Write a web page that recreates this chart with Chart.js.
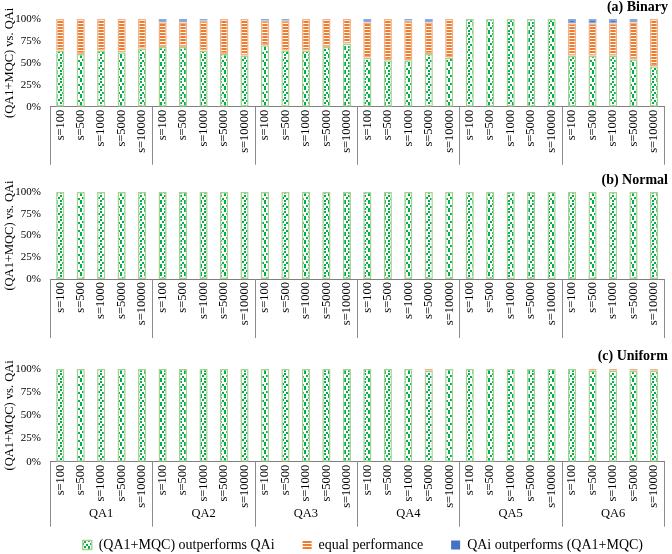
<!DOCTYPE html>
<html>
<head>
<meta charset="utf-8">
<script src="https://cdn.jsdelivr.net/npm/chart.js@4.4.0/dist/chart.umd.min.js"></script>
<style>
  html, body { margin: 0; padding: 0; background: #fff; overflow: hidden; }
  #wrap { position: relative; width: 672px; height: 554px; }
  .panel { position: absolute; left: 0; width: 672px; }
</style>
</head>
<body>
<div id="wrap">
  <div class="panel" style="top:0;height:170px"><canvas id="chartA"></canvas></div>
  <div class="panel" style="top:170px;height:170px"><canvas id="chartB"></canvas></div>
  <div class="panel" style="top:340px;height:222px"><canvas id="chartC"></canvas></div>
</div>
<script>
// categories
const groups = ['QA1', 'QA2', 'QA3', 'QA4', 'QA5', 'QA6'];
const sizes = ['s=100', 's=500', 's=1000', 's=5000', 's=10000'];
const seriesNames = ['(QA1+MQC) outperforms QAi', 'equal performance', 'QAi outperforms (QA1+MQC)'];
const yTicks = [0, 25, 50, 75, 100];

// (a) Binary, percent of cases
const binaryBetter = [64, 60, 64, 62, 66, 68, 68, 64, 60, 58, 70, 64, 64, 68, 72, 56, 53, 53, 60, 56, 100, 100, 100, 100, 100, 58, 58, 58, 54, 46];
const binaryEqual = [36, 40, 36, 38, 34, 28, 28, 34, 40, 42, 28, 34, 36, 32, 28, 40, 47, 45, 36, 44, 0, 0, 0, 0, 0, 37, 37, 37, 42, 54];
const binaryWorse = [0, 0, 0, 0, 0, 4, 4, 2, 0, 0, 2, 2, 0, 0, 0, 4, 0, 2, 4, 0, 0, 0, 0, 0, 0, 5, 5, 5, 4, 0];

// (b) Normal
const normalBetter = [100, 100, 100, 100, 100, 100, 100, 100, 100, 100, 100, 100, 100, 100, 100, 100, 100, 100, 100, 100, 100, 100, 100, 100, 100, 100, 100, 100, 100, 100];
const normalEqual = [0, 0, 0, 0, 0, 0, 0, 0, 0, 0, 0, 0, 0, 0, 0, 0, 0, 0, 0, 0, 0, 0, 0, 0, 0, 0, 0, 0, 0, 0];
const normalWorse = [0, 0, 0, 0, 0, 0, 0, 0, 0, 0, 0, 0, 0, 0, 0, 0, 0, 0, 0, 0, 0, 0, 0, 0, 0, 0, 0, 0, 0, 0];

// (c) Uniform
const uniformBetter = [100, 100, 100, 100, 100, 100, 100, 100, 100, 100, 100, 100, 100, 100, 100, 100, 100, 100, 98, 100, 100, 100, 100, 100, 100, 100, 98, 98, 98, 98];
const uniformEqual = [0, 0, 0, 0, 0, 0, 0, 0, 0, 0, 0, 0, 0, 0, 0, 0, 0, 0, 2, 0, 0, 0, 0, 0, 0, 0, 2, 2, 2, 2];
const uniformWorse = [0, 0, 0, 0, 0, 0, 0, 0, 0, 0, 0, 0, 0, 0, 0, 0, 0, 0, 0, 0, 0, 0, 0, 0, 0, 0, 0, 0, 0, 0];

const labels = groups.flatMap(() => sizes);
const serif = '"Liberation Serif", "Times New Roman", serif';

Chart.defaults.font.family = serif;
Chart.defaults.color = '#000';

function makeTile(w, h, paint) {
    const c = document.createElement('canvas');
    c.width = w;
    c.height = h;
    const g = c.getContext('2d');
    paint(g);
    return g.createPattern(c, 'repeat');
}

// small green confetti on white
const greenFill = makeTile(8, 8, g => {
    g.fillStyle = '#ffffff';
    g.fillRect(0, 0, 8, 8);
    g.fillStyle = '#00b050';
    [[0, 0], [4, 1], [2, 3], [6, 4], [0, 6], [4, 6]].forEach(([x, y]) => g.fillRect(x, y, 2, 2));
});

// narrow orange horizontal stripes
const orangeFill = makeTile(4, 3, g => {
    g.fillStyle = '#ffffff';
    g.fillRect(0, 0, 4, 3);
    g.fillStyle = '#ed7d31';
    g.fillRect(0, 0, 4, 2);
});

function groupAxisPlugin(cfg) {
    return {
        id: 'groupAxis',
        afterDraw(chart) {
            const { ctx, chartArea: area } = chart;
            const x = chart.scales.x;
            const per = sizes.length;
            const edges = [];
            for (let i = 0; i <= groups.length; i++) {
                if (i === 0) edges.push(area.left);
                else if (i === groups.length) edges.push(area.right);
                else edges.push((x.getPixelForValue(i * per - 1) + x.getPixelForValue(i * per)) / 2);
            }

            ctx.save();
            ctx.strokeStyle = '#8c8c8c';
            ctx.lineWidth = 1;
            ctx.beginPath();
            edges.forEach(e => {
                const px = Math.round(e) + 0.5;
                ctx.moveTo(px, area.bottom);
                ctx.lineTo(px, area.bottom + cfg.lineLength);
            });
            ctx.stroke();

            ctx.fillStyle = '#000';
            ctx.textBaseline = 'middle';
            if (cfg.showGroups) {
                ctx.font = '12.5px ' + serif;
                ctx.textAlign = 'center';
                groups.forEach((g, i) => {
                    ctx.fillText(g, (edges[i] + edges[i + 1]) / 2, area.bottom + cfg.groupY);
                });
            }

            ctx.font = 'bold 14px ' + serif;
            ctx.textAlign = 'right';
            ctx.fillText(cfg.title, chart.width - 4, cfg.titleY);
            ctx.restore();
        }
    };
}

function makePanel(id, cfg, better, equal, worse) {
    const edge = c => (c.raw === 0 ? 0 : 1.5);
    return new Chart(document.getElementById(id), {
        type: 'bar',
        data: {
            labels: labels,
            datasets: [
                { label: seriesNames[0], data: better, backgroundColor: greenFill, borderColor: '#a9d18e', borderWidth: edge },
                { label: seriesNames[1], data: equal, backgroundColor: orangeFill, borderColor: '#f4b183', borderWidth: edge },
                { label: seriesNames[2], data: worse, backgroundColor: '#4472c4', borderColor: '#8faadc', borderWidth: edge }
            ]
        },
        options: {
            responsive: true,
            maintainAspectRatio: false,
            animation: false,
            layout: { padding: { top: cfg.padTop, right: 1, bottom: 0, left: 0 } },
            datasets: {
                bar: { categoryPercentage: 1, barPercentage: 0.4, borderSkipped: false }
            },
            plugins: {
                tooltip: { enabled: false },
                legend: {
                    display: cfg.legend,
                    position: 'bottom',
                    align: 'end',
                    labels: {
                        boxWidth: 9,
                        boxHeight: 9,
                        padding: 28,
                        color: '#000',
                        font: { size: 14, family: serif }
                    }
                }
            },
            scales: {
                x: {
                    stacked: true,
                    grid: { display: false, drawTicks: false },
                    border: { display: true, color: '#7f7f7f', width: 1 },
                    ticks: {
                        autoSkip: false,
                        minRotation: 90,
                        maxRotation: 90,
                        padding: 3,
                        color: '#000',
                        font: { size: 12.5, family: serif }
                    },
                    afterFit: s => { s.height = cfg.xHeight; }
                },
                y: {
                    stacked: true,
                    min: 0,
                    max: 100,
                    grid: { display: false, drawTicks: false },
                    border: { display: false },
                    afterBuildTicks: s => { s.ticks = yTicks.map(v => ({ value: v })); },
                    ticks: {
                        padding: 9,
                        color: '#000',
                        font: { size: 11, family: serif },
                        callback: v => v + '%'
                    },
                    title: {
                        display: true,
                        text: '(QA1+MQC) vs. QAi',
                        color: '#000',
                        padding: { top: 2, bottom: 0 },
                        font: { size: 12.5, family: serif }
                    },
                    afterFit: s => { s.width = 50; }
                }
            }
        },
        plugins: [groupAxisPlugin(cfg)]
    });
}

makePanel('chartA', { title: '(a) Binary', titleY: 7, padTop: 19, xHeight: 63.3, lineLength: 58, showGroups: false, legend: false },
    binaryBetter, binaryEqual, binaryWorse);
makePanel('chartB', { title: '(b) Normal', titleY: 10, padTop: 22, xHeight: 61, lineLength: 59, showGroups: false, legend: false },
    normalBetter, normalEqual, normalWorse);
makePanel('chartC', { title: '(c) Uniform', titleY: 16, padTop: 29, xHeight: 48.3, lineLength: 65, groupY: 52, showGroups: true, legend: true },
    uniformBetter, uniformEqual, uniformWorse);
</script>
</body>
</html>
